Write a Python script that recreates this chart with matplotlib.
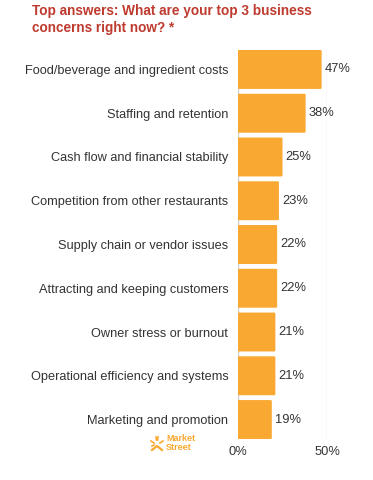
import matplotlib.pyplot as plt
from matplotlib.patches import FancyBboxPatch

categories = [
    "Food/beverage and ingredient costs",
    "Staffing and retention",
    "Cash flow and financial stability",
    "Competition from other restaurants",
    "Supply chain or vendor issues",
    "Attracting and keeping customers",
    "Owner stress or burnout",
    "Operational efficiency and systems",
    "Marketing and promotion",
]
values = [47, 38, 25, 23, 22, 22, 21, 21, 19]
xticks = [0, 50]
xtick_labels = ["0%", "50%"]

orange = "#F9A932"
red = "#BF3B2F"
dark = "#333333"
plt.rcParams["font.family"] = ["Liberation Sans", "DejaVu Sans"]

fig = plt.figure(figsize=(3.73, 4.8), dpi=100)
ax = fig.add_axes([238 / 373, 41 / 480, 89 / 373, 389 / 480])

h = 0.89
for i, v in enumerate(values):
    # bar with rounded right corners
    ax.add_patch(FancyBboxPatch((-1, i - h / 2), v + 1, h,
                                boxstyle="round,pad=0,rounding_size=0.8",
                                mutation_aspect=0.03,
                                fc=orange, ec="none", zorder=2))
    ax.text(v + 1.8, i, f"{v}%", va="center", ha="left", fontsize=9.3, color=dark)

ax.set_xlim(0, 50)
ax.set_ylim(len(values) - 1 + h / 2, -h / 2)
ax.set_yticks(range(len(categories)))
ax.set_yticklabels(categories, fontsize=9.2, color=dark)
ax.set_xticks(xticks)
ax.set_xticklabels(xtick_labels, fontsize=9.3, color=dark)
ax.tick_params(length=0, pad=7)
ax.tick_params(axis="x", pad=5)
for s in ax.spines.values():
    s.set_visible(False)
ax.axvline(50, color="#dddddd", lw=1, zorder=1)
ax.axvline(0, color="#cccccc", lw=1, zorder=1)

fig.text(32 / 373, 1 - 4 / 480, "Top answers: What are your top 3 business\nconcerns right now? *",
         color=red, fontsize=9.8, fontweight="bold", va="top", ha="left", linespacing=1.3)

# Market Street logo
fig.text(166 / 373, 1 - 443 / 480, "Market\nStreet", color=orange, fontsize=6.5,
         fontweight="bold", va="center", ha="left", linespacing=1.0)
lx = lambda px: px / 373
ly = lambda py: 1 - py / 480
for (x0, y0, x1, y1) in [(151, 441, 154, 443), (163, 441, 160, 443),
                         (156, 437, 156.5, 440), (158, 437, 157.5, 440),
                         (152, 446, 154, 445)]:
    fig.add_artist(plt.Line2D([lx(x0), lx(x1)], [ly(y0), ly(y1)], color=orange, lw=1.2))
fig.add_artist(plt.Line2D([lx(152), lx(157), lx(162)], [ly(450), ly(446), ly(450)],
                          color=orange, lw=1.6))

fig.savefig("out.png", dpi=100)
